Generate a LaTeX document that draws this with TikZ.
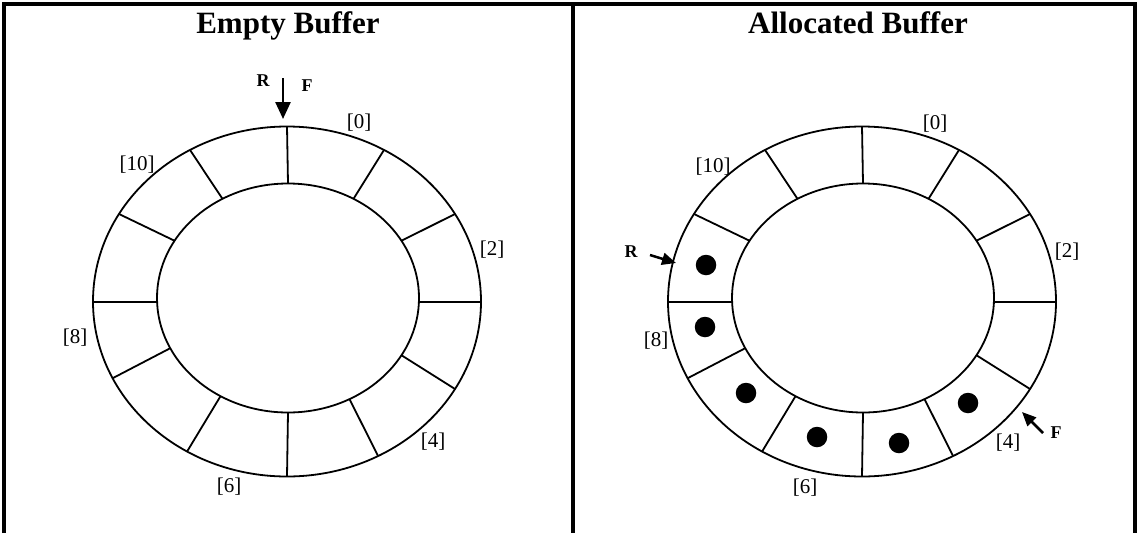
\documentclass[tikz,border=0pt]{standalone}
\usepackage{fontspec}
\setmainfont{Liberation Serif}
\usetikzlibrary{arrows.meta}
\begin{document}
\begin{tikzpicture}[x=1pt,y=-1pt,
  ring/.style={line width=1.8pt},
  frame/.style={line width=4pt, line join=miter},
  title/.style={font=\fontsize{31}{31}\selectfont\bfseries, anchor=base, inner sep=0pt},
  idx/.style={font=\fontsize{21}{21}\selectfont, inner sep=0pt},
  ptr/.style={font=\fontsize{18}{18}\selectfont\bfseries, inner sep=0pt},
  bigptr/.style={line width=2.5pt, -{Triangle[length=17pt,width=15pt]}},
  smallptr/.style={line width=2.5pt, -{Triangle[length=14pt,width=12pt]}},
  slot/.style={fill=black, circle, minimum size=20.5pt, inner sep=0pt}]
\useasboundingbox (0,0) rectangle (1139,533);
% frame
\draw[frame] (4,533) -- (4,4) -- (1135,4) -- (1135,533);
\draw[frame] (573,4) -- (573,533);
% titles
\node[title] (t1) at (288,33) {Empty Buffer};
\node[title] (t2) at (858,33) {Allocated Buffer};
% rings
\foreach \cx in {287,862}{
  \draw[ring] (\cx,301.5) ellipse [x radius=194pt, y radius=175pt];
  \draw[ring] ({\cx+1},298) ellipse [x radius=131pt, y radius=114.5pt];
  \foreach \a in {90,60,30,-30,-62,-90,-121,-154,150,120}{
    \draw[ring] ({\cx+1+131*cos(\a)},{298-114.5*sin(\a)}) -- ({\cx+194*cos(\a)},{301.5-175*sin(\a)});
  }
  \draw[ring, line width=2.4pt] ({\cx+132},302) -- ({\cx+194},302);
  \draw[ring, line width=2.4pt] ({\cx-130},302) -- ({\cx-194},302);
}
% index labels left
\node[idx] (l0) at (359,123) {[0]};
\node[idx] (l2) at (492,250) {[2]};
\node[idx] (l4) at (433,442) {[4]};
\node[idx] (l6) at (229,487) {[6]};
\node[idx] (l8) at (75,338) {[8]};
\node[idx] (l10) at (137,165) {[10]};
% index labels right
\node[idx] (r0) at (935,124) {[0]};
\node[idx] (r2) at (1067,252) {[2]};
\node[idx] (r4) at (1008,443) {[4]};
\node[idx] (r6) at (805,488) {[6]};
\node[idx] (r8) at (656,341) {[8]};
\node[idx] (r10) at (713,167) {[10]};
% left pointers
\node[ptr] (lR) at (263,81) {R};
\node[ptr] (lF) at (307,85.5) {F};
\coordinate (lpt) at (283,78);
\coordinate (lph) at (283,119);
\draw[bigptr] (lpt) -- (lph);
% right pointers
\node[ptr] (rR) at (631,252) {R};
\node[ptr] (rF) at (1056,433) {F};
\coordinate (rrt) at (650,255);
\coordinate (rrh) at (676,263);
\draw[smallptr] (rrt) -- (rrh);
\coordinate (rft) at (1043,433);
\coordinate (rfh) at (1022,412);
\draw[smallptr] (rft) -- (rfh);
% filled slots
\node[slot] (d1) at (706,265) {};
\node[slot] (d2) at (705,327) {};
\node[slot] (d3) at (746,393) {};
\node[slot] (d4) at (817,437) {};
\node[slot] (d5) at (899,443) {};
\node[slot] (d6) at (968,403) {};
\end{tikzpicture}
\end{document}
